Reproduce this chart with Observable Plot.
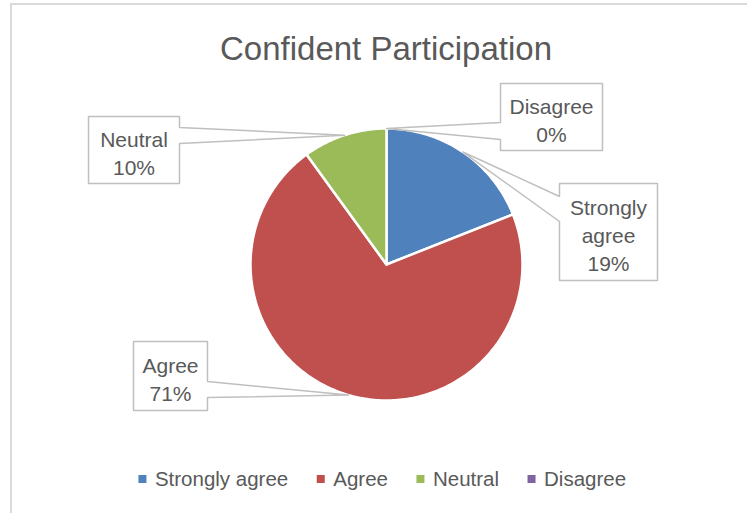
<!DOCTYPE html>
<html><head><meta charset="utf-8">
<script src="https://cdn.jsdelivr.net/npm/d3@7"></script>
<script src="https://cdn.jsdelivr.net/npm/@observablehq/plot@0.6"></script>
<style>
body{margin:0;background:#fff;overflow:hidden;width:747px;height:513px;position:relative;font-family:"Liberation Sans",Arial,sans-serif}
#frame{position:absolute;left:10px;top:3px;width:800px;height:600px;border:2px solid #d9d9d9;box-sizing:border-box}
#chart{position:absolute;left:0;top:0}
</style></head><body><div id="frame"></div><div id="chart"></div>
<script>
// ---- data ----
const title = "Confident Participation";
const categories = ["Strongly agree", "Agree", "Neutral", "Disagree"];
const values = [19, 71, 10, 0];
const percentLabels = ["19%", "71%", "10%", "0%"];

// ---- style / layout ----
const colors = ["#4F81BD", "#C0504D", "#9BBB59", "#8064A2"];
const W = 747, H = 513;
const cx = 386, cy = 264, R = 136;
const textColor = "#595959";
const font = '"Liberation Sans", Arial, sans-serif';
// callout boxes: [x1, y1, x2, y2], side of wedge, wedge attach y range, wrap label
const calloutLayout = {
  "Strongly agree": {box: [559, 183, 657, 280], side: "left", ya: 196, yb: 221, wrap: true},
  "Agree": {box: [133, 341, 207, 410], side: "right", ya: 381, yb: 397, wrap: false},
  "Neutral": {box: [88, 116, 179, 183], side: "right", ya: 127, yb: 143, wrap: false},
  "Disagree": {box: [500, 83, 602, 150], side: "left", ya: 122, yb: 139, wrap: false}
};

// ---- pie geometry from data ----
const pie = d3.pie().sort(null).value(d => d.value);
const rows = categories.map((c, i) => ({category: c, value: values[i], pct: percentLabels[i]}));
const arcs = pie(rows);
const pt = a => [cx + R * Math.sin(a), cy - R * Math.cos(a)];

const slicePts = [];
for (const a of arcs) {
  if (a.endAngle - a.startAngle <= 0) continue;
  const cat = a.data.category;
  slicePts.push({category: cat, x: cx, y: cy});
  const n = Math.max(2, Math.ceil((a.endAngle - a.startAngle) / (Math.PI / 180)));
  for (let k = 0; k <= n; k++) {
    const ang = a.startAngle + (a.endAngle - a.startAngle) * k / n;
    const [x, y] = pt(ang);
    slicePts.push({category: cat, x, y});
  }
}

// callouts
const calloutPts = [];
const calloutText = [];
for (const a of arcs) {
  const cat = a.data.category;
  const L = calloutLayout[cat];
  const [tx, ty] = pt((a.startAngle + a.endAngle) / 2);
  const [x1, y1, x2, y2] = L.box;
  const e = L.side === "left" ? x1 : x2;
  const o = L.side === "left" ? x2 : x1;
  const seq = [[tx, ty], [e, L.ya], [e, y1], [o, y1], [o, y2], [e, y2], [e, L.yb], [tx, ty]];
  seq.forEach(([x, y]) => calloutPts.push({category: cat, x, y}));
  const name = L.wrap ? cat.replace(" ", "\n") : cat;
  calloutText.push({x: (x1 + x2) / 2, y: (y1 + y2) / 2 + 2.5, text: name + "\n" + a.data.pct});
}

// legend layout (measured)
const ctx = document.createElement("canvas").getContext("2d");
const legendSize = 20.5;
ctx.font = `${legendSize}px ${font}`;
const sq = 8, gapSq = 8, gapItem = 29;
const widths = categories.map(c => ctx.measureText(c).width);
const total = widths.reduce((s, w) => s + sq + gapSq + w, 0) + gapItem * (categories.length - 1);
let lx = 382 - total / 2;
const legendItems = categories.map((c, i) => {
  const it = {category: c, sx1: lx, sx2: lx + sq, tx: lx + sq + gapSq};
  lx += sq + gapSq + widths[i] + gapItem;
  return it;
});
const legendY = 479;

const chart = Plot.plot({
  width: W, height: H,
  margin: 0,
  style: {fontFamily: font, background: "transparent", overflow: "visible"},
  x: {domain: [0, W], range: [0, W], axis: null},
  y: {domain: [0, H], range: [0, H], axis: null},
  color: {domain: categories, range: colors},
  marks: [
    Plot.text([title], {x: 385.5, y: 49.4, text: d => d, fontSize: 33, fill: textColor, textAnchor: "middle", lineAnchor: "middle"}),
    Plot.line(slicePts, {x: "x", y: "y", z: "category", fill: "category", stroke: "white", strokeWidth: 2.5, strokeLinejoin: "round", curve: "linear-closed"}),
    Plot.line(calloutPts, {x: "x", y: "y", z: "category", fill: "white", stroke: "#bfbfbf", strokeWidth: 1.5, strokeLinejoin: "miter"}),
    Plot.text(calloutText, {x: "x", y: "y", text: "text", fontSize: 21, lineHeight: 28 / 21, fill: textColor, textAnchor: "middle", lineAnchor: "middle"}),
    Plot.rect(legendItems, {x1: "sx1", x2: "sx2", y1: legendY - sq / 2, y2: legendY + sq / 2, fill: "category"}),
    Plot.text(legendItems, {x: "tx", y: legendY + 0.4, text: "category", fontSize: legendSize, fill: textColor, textAnchor: "start", lineAnchor: "middle"})
  ]
});
document.getElementById("chart").appendChild(chart);
</script>
</body></html>
